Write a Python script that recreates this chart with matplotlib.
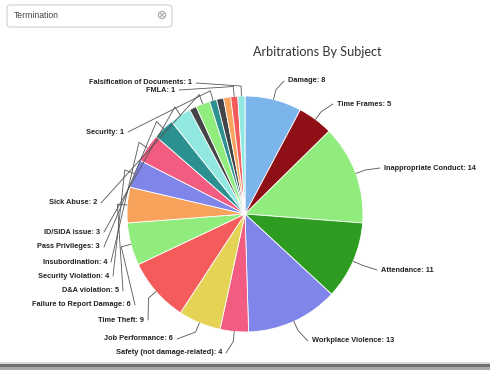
import numpy as np
import matplotlib.pyplot as plt
from matplotlib.patches import FancyBboxPatch, Circle, Rectangle

# Data slices, clockwise from 12 o'clock (three small slices have hidden labels)
subjects = ['Damage', 'Time Frames', 'Inappropriate Conduct', 'Attendance',
            'Workplace Violence', 'Safety (not damage-related)', 'Job Performance',
            'Time Theft', 'Failure to Report Damage', 'D&A violation',
            'Security Violation', 'Insubordination', 'Pass Privileges',
            'ID/SIDA issue', '', 'Sick Abuse', 'Security', '', '', 'FMLA',
            'Falsification of Documents']
counts = [8, 5, 14, 11, 13, 4, 6, 9, 6, 5, 4, 4, 3, 3, 1, 2, 1, 1, 1, 1, 1]
colors = ['#7cb5ec', '#8e1016', '#90ed7d', '#2e9c20', '#8085e9', '#f15c80',
          '#e4d354', '#f45b5b', '#90ed7d', '#f7a35c', '#8085e9', '#f15c80',
          '#2b908f', '#91e8e1', '#434348', '#90ed7d', '#2b908f', '#434348',
          '#f7a35c', '#f45b5b', '#91e8e1']

# label text positions (image pixels) and side
label_pos = {
    'Damage': (288, 81, 'left'),
    'Time Frames': (337, 104, 'left'),
    'Inappropriate Conduct': (384, 168, 'left'),
    'Attendance': (381, 270, 'left'),
    'Workplace Violence': (312, 341, 'left'),
    'Safety (not damage-related)': (222, 353, 'right'),
    'Job Performance': (173, 339, 'right'),
    'Time Theft': (144, 320, 'right'),
    'Failure to Report Damage': (131, 305, 'right'),
    'D&A violation': (119, 291, 'right'),
    'Security Violation': (109, 276, 'right'),
    'Insubordination': (107, 262, 'right'),
    'Pass Privileges': (100, 247, 'right'),
    'ID/SIDA issue': (100, 232, 'right'),
    'Sick Abuse': (97, 203, 'right'),
    'Security': (124, 132, 'right'),
    'FMLA': (175, 90, 'right'),
    'Falsification of Documents': (192, 83, 'right'),
}

cx, cy, r = 245, 214, 118

fig = plt.figure(figsize=(4.9, 3.7), dpi=100)
ax = fig.add_axes([0, 0, 1, 1])

# y axis is inverted below, so counterclock=True draws clockwise on screen
wedges, _ = ax.pie(counts, colors=colors, center=(cx, cy), radius=r,
                   startangle=-90, counterclock=True,
                   wedgeprops=dict(edgecolor='white', linewidth=0.6))

total = sum(counts)
cum = np.cumsum([0] + counts)
for i, name in enumerate(subjects):
    if name not in label_pos:
        continue
    tx, ty, ha = label_pos[name]
    mid = np.radians(-90 + (cum[i] + counts[i] / 2) * 360 / total)
    ex, ey = cx + r * np.cos(mid), cy + r * np.sin(mid)
    ox, oy = cx + (r + 10) * np.cos(mid), cy + (r + 10) * np.sin(mid)
    axx = tx - 4 if ha == 'left' else tx + 4
    ax.plot([axx, ox, ex], [ty, oy, ey], color='#555555', lw=0.6,
            solid_capstyle='round', zorder=3)
    ax.text(tx, ty, f'{name}: {counts[i]}', ha=ha, va='center',
            fontsize=5.3, fontweight='bold', family='Liberation Sans',
            color='#222222', zorder=4)

ax.text(253, 52, 'Arbitrations By Subject', ha='left', va='center',
        fontsize=9.1, family='Lato', color='#333333')

# search box
ax.add_patch(FancyBboxPatch((7, 5), 165, 22, boxstyle='round,pad=0,rounding_size=3',
                            fc='white', ec='#d0d0d0', lw=0.8))
ax.text(14, 16, 'Termination', ha='left', va='center', fontsize=6.2,
        family='Liberation Sans', color='#444444')
ax.add_patch(Circle((162, 15), 3.6, fc='white', ec='#b0b0b0', lw=0.9))
ax.plot([160.3, 163.7], [13.3, 16.7], color='#b0b0b0', lw=0.9)
ax.plot([160.3, 163.7], [16.7, 13.3], color='#b0b0b0', lw=0.9)

# bottom bar
ax.add_patch(Rectangle((0, 362), 490, 1.5, fc='#d8d8d8', ec='none'))
ax.add_patch(Rectangle((0, 363.5), 490, 3, fc='#6f6f6f', ec='none'))
ax.add_patch(Rectangle((0, 366.5), 490, 3.5, fc='#a8a8a8', ec='none'))

ax.set_xlim(0, 490)
ax.set_ylim(370, 0)
ax.set_aspect('equal')
ax.axis('off')

fig.savefig('out.png', dpi=100)
